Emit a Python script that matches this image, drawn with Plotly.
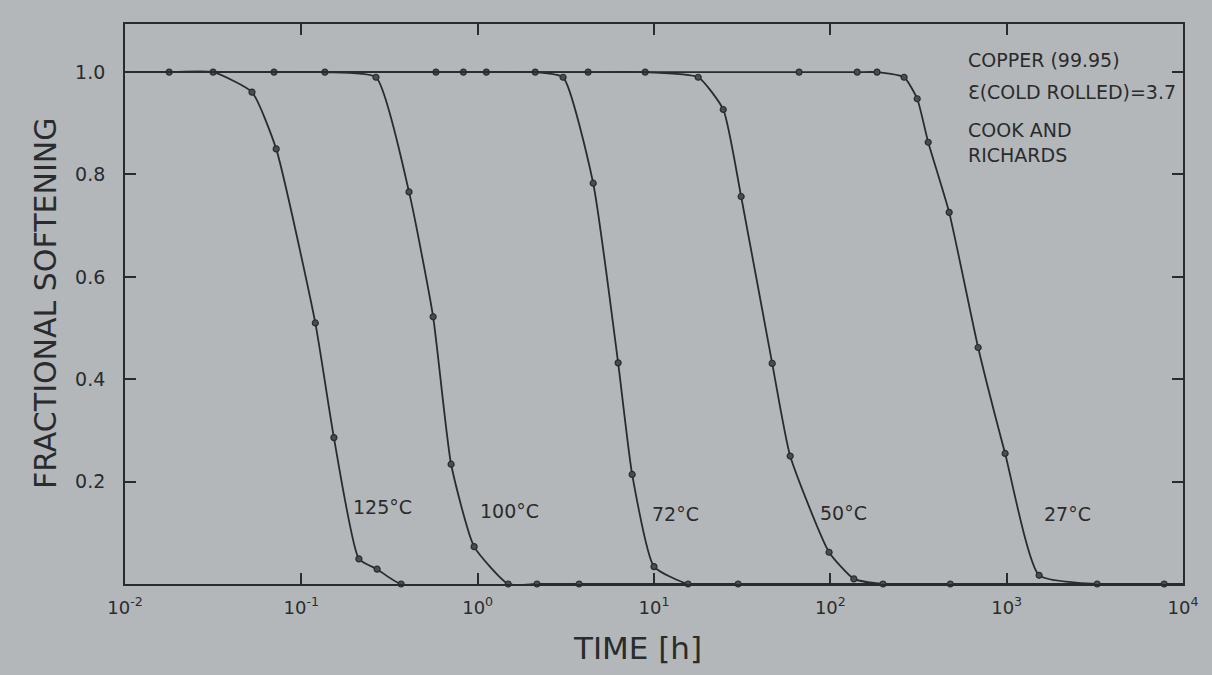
import plotly.graph_objects as go

# ---- data (time in hours, fractional softening) ----
T125_x = [0.0178, 0.0316, 0.0525, 0.072, 0.120, 0.153, 0.212, 0.269, 0.368]
T125_y = [1.0, 1.0, 0.961, 0.850, 0.510, 0.286, 0.049, 0.029, 0.0]

T100_x = [0.070, 0.136, 0.265, 0.408, 0.559, 0.707, 0.955, 1.49, 2.17, 3.76]
T100_y = [1.0, 1.0, 0.99, 0.766, 0.522, 0.234, 0.073, 0.0, 0.0, 0.0]

T72_x = [0.58, 0.83, 1.12, 2.12, 3.05, 4.52, 6.26, 7.52, 10.0, 15.6, 30.0]
T72_y = [1.0, 1.0, 1.0, 1.0, 0.99, 0.783, 0.432, 0.214, 0.034, 0.0, 0.0]

T50_x = [4.23, 8.91, 17.8, 24.7, 31.2, 46.8, 59.2, 98.4, 136, 199, 479]
T50_y = [1.0, 1.0, 0.99, 0.927, 0.757, 0.431, 0.250, 0.062, 0.01, 0.0, 0.0]

T27_x = [66.5, 142, 184, 262, 311, 359, 472, 689, 980, 1528, 3260, 7820]
T27_y = [1.0, 1.0, 1.0, 0.99, 0.948, 0.863, 0.726, 0.462, 0.255, 0.017, 0.0, 0.0]

SERIES = [("125°C", T125_x, T125_y), ("100°C", T100_x, T100_y), ("72°C", T72_x, T72_y),
          ("50°C", T50_x, T50_y), ("27°C", T27_x, T27_y)]

X_TICKS = [0.01, 0.1, 1, 10, 100, 1000, 10000]
X_TICKTEXT = ["10<sup>-2</sup>", "10<sup>-1</sup>", "10<sup>0</sup>", "10<sup>1</sup>",
              "10<sup>2</sup>", "10<sup>3</sup>", "10<sup>4</sup>"]
Y_TICKS = [0.2, 0.4, 0.6, 0.8, 1.0]
Y_TICKTEXT = ["0.2", "0.4", "0.6", "0.8", "1.0"]

# label positions (log10 time, softening)
LABELS = [("125°C", -0.72, 0.15), ("100°C", 0.0, 0.142), ("72°C", 0.98, 0.137),
          ("50°C", 1.93, 0.138), ("27°C", 3.20, 0.137)]
INFO = [("COPPER (99.95)", 1.023), ("Ɛ(COLD ROLLED)=3.7", 0.961),
        ("COOK AND", 0.887), ("RICHARDS", 0.838)]

X_MIN, X_MAX = 0.01, 10000
BG = "#b3b7ba"
INK = "#2a2b2c"
FONT = "DejaVu Sans"

fig = go.Figure()
for name, xs, ys in SERIES:
    fig.add_trace(go.Scatter(
        x=[X_MIN] + xs + [X_MAX], y=[1.0] + ys + [0.0], mode="lines",
        line=dict(color=INK, width=1.8, shape="spline", smoothing=0.5),
        showlegend=False, hoverinfo="skip"))
    fig.add_trace(go.Scatter(
        x=xs, y=ys, mode="markers", name=name,
        marker=dict(symbol="circle", size=6, color="#4a4c4e",
                    line=dict(color=INK, width=1.2)),
        showlegend=False, cliponaxis=False))

for text, lx, ly in LABELS:
    fig.add_annotation(x=lx, y=ly, xref="x", yref="y", text=text, showarrow=False,
                       xanchor="left", yanchor="middle",
                       font=dict(family=FONT, size=19, color=INK))

for text, ly in INFO:
    fig.add_annotation(x=2.77, y=ly, xref="x", yref="y", text=text, showarrow=False,
                       xanchor="left", yanchor="middle",
                       font=dict(family=FONT, size=19, color=INK))

fig.add_annotation(x=-0.0756, y=0.5, xref="paper", yref="paper",
                   text="FRACTIONAL SOFTENING", textangle=-90, showarrow=False,
                   xanchor="center", yanchor="middle",
                   font=dict(family=FONT, size=30, color=INK))
fig.add_annotation(x=0.484, y=-0.114, xref="paper", yref="paper",
                   text="TIME [h]", showarrow=False, xanchor="center", yanchor="middle",
                   font=dict(family=FONT, size=31, color=INK))

fig.update_xaxes(type="log", range=[-2, 4], tickvals=X_TICKS, ticktext=X_TICKTEXT,
                 ticks="inside", ticklen=11, tickwidth=1.5, tickcolor=INK,
                 showline=True, linecolor=INK, linewidth=1.8, mirror="ticks",
                 showgrid=False, zeroline=False, ticklabelstandoff=6,
                 tickfont=dict(family=FONT, size=18, color=INK))
fig.update_yaxes(range=[0, 1.094], tickvals=Y_TICKS, ticktext=Y_TICKTEXT,
                 ticks="inside", ticklen=11, tickwidth=1.5, tickcolor=INK,
                 showline=True, linecolor=INK, linewidth=1.8, mirror="ticks",
                 showgrid=False, zeroline=False, ticklabelstandoff=14,
                 tickfont=dict(family=FONT, size=19, color=INK))

fig.update_layout(width=1212, height=675, paper_bgcolor=BG, plot_bgcolor=BG,
                  margin=dict(l=125, r=29, t=24, b=91, autoexpand=False),
                  showlegend=False)

fig.write_html(
    "out.html",
    config={"displayModeBar": False},
    post_script=("document.body.style.margin='0';"
                 "document.body.style.background='" + BG + "';"
                 "document.documentElement.style.overflow='hidden';"))
